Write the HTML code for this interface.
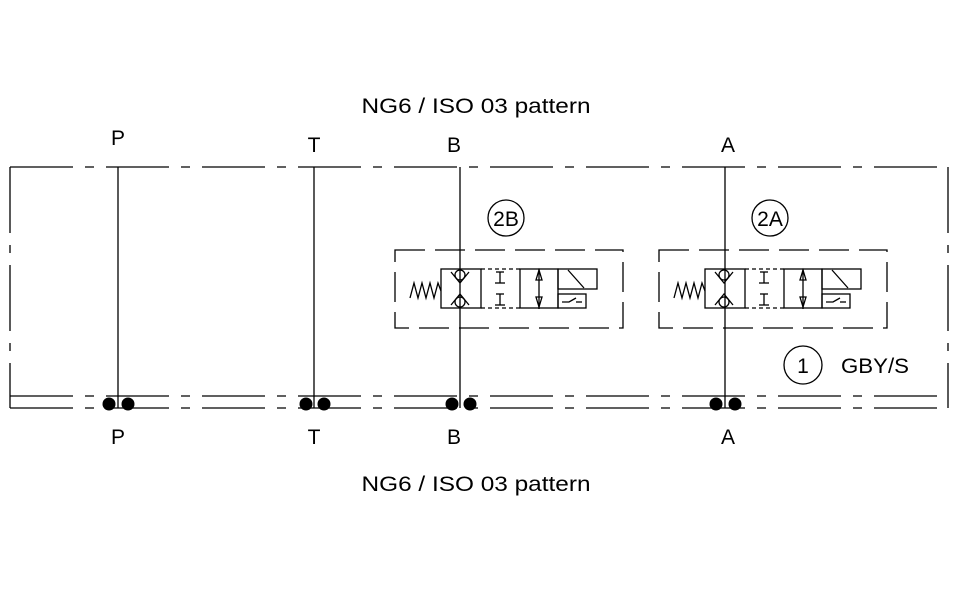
<!DOCTYPE html>
<html><head><meta charset="utf-8"><style>
html,body{margin:0;padding:0;background:#fff;}
svg{display:block;}
text{font-family:"Liberation Sans",sans-serif;fill:#000;}
</style></head><body>
<svg width="960" height="608" viewBox="0 0 960 608" xmlns="http://www.w3.org/2000/svg">
<defs>
<g id="valve" fill="none" stroke="#000" stroke-width="1.3">
  <!-- dashed housing -->
  <rect x="-46" y="-19" width="228" height="78" stroke-dasharray="30 10"/>
  <!-- spring -->
  <polyline points="-31,29 -27,14 -23,29 -19,14 -15,29 -11,14 -7,29 -3,14 0,22"/>
  <!-- body -->
  <rect x="0" y="0" width="40" height="39"/>
  <circle cx="19" cy="6" r="5"/>
  <polyline points="10,3 19,14 28,3"/>
  <circle cx="19" cy="33" r="5"/>
  <polyline points="10,36 19,25 28,36"/>
  <!-- dashed middle -->
  <line x1="40" y1="0" x2="79" y2="0" stroke-dasharray="4 3"/>
  <line x1="40" y1="39" x2="79" y2="39" stroke-dasharray="4 3"/>
  <line x1="59" y1="3" x2="59" y2="14"/><line x1="55" y1="3" x2="63" y2="3"/><line x1="54" y1="14" x2="64" y2="14"/>
  <line x1="59" y1="25" x2="59" y2="36"/><line x1="55" y1="25" x2="63" y2="25"/><line x1="54" y1="36" x2="64" y2="36"/>
  <!-- solid section -->
  <rect x="79" y="0" width="38" height="39"/>
  <line x1="98" y1="0" x2="98" y2="40"/>
  <polygon points="98,1 95,11 101,11"/>
  <polygon points="98,38 95,28 101,28"/>
  <!-- solenoid -->
  <rect x="117" y="0" width="39" height="20"/>
  <line x1="127" y1="1" x2="143" y2="19"/>
  <rect x="117" y="25" width="28" height="14"/>
  <polyline points="121,33 128,33 135,29"/><line x1="135" y1="33" x2="141" y2="33"/>
</g>
</defs>
<g fill="none" stroke="#000" stroke-width="1.3">
  <!-- frame -->
  <line x1="10" y1="167" x2="948" y2="167" stroke-dasharray="63 12 9 12"/>
  <line x1="10" y1="396" x2="948" y2="396" stroke-dasharray="63 12 9 12"/>
  <line x1="10" y1="408" x2="948" y2="408" stroke-dasharray="63 12 9 12"/>
  <line x1="10" y1="167" x2="10" y2="408" stroke-dasharray="66 12 8 12"/>
  <line x1="948" y1="167" x2="948" y2="408" stroke-dasharray="66 12 8 12"/>
  <!-- ports -->
  <line x1="118" y1="167" x2="118" y2="408"/>
  <line x1="314" y1="167" x2="314" y2="408"/>
  <line x1="460" y1="167" x2="460" y2="408"/>
  <line x1="725" y1="167" x2="725" y2="408"/>
  <!-- callout circles -->
  <circle cx="506" cy="218" r="18"/>
  <circle cx="770" cy="218" r="18"/>
  <circle cx="803" cy="365" r="19"/>
</g>
<use href="#valve" x="441" y="269"/>
<use href="#valve" x="705" y="269"/>
<g fill="#000">
  <circle cx="109" cy="404" r="6.5"/><circle cx="128" cy="404" r="6.5"/>
  <circle cx="306" cy="404" r="6.5"/><circle cx="324" cy="404" r="6.5"/>
  <circle cx="452" cy="404" r="6.5"/><circle cx="470" cy="404" r="6.5"/>
  <circle cx="716" cy="404" r="6.5"/><circle cx="735" cy="404" r="6.5"/>
</g>
<g font-size="21" text-anchor="middle">
  <text x="476" y="113" textLength="229" lengthAdjust="spacingAndGlyphs">NG6 / ISO 03 pattern</text>
  <text x="476" y="491" textLength="229" lengthAdjust="spacingAndGlyphs">NG6 / ISO 03 pattern</text>
  <text x="118" y="145">P</text>
  <text x="314" y="152">T</text>
  <text x="454" y="152">B</text>
  <text x="728" y="152">A</text>
  <text x="118" y="444">P</text>
  <text x="314" y="444">T</text>
  <text x="454" y="444">B</text>
  <text x="728" y="444">A</text>
  <text x="506" y="226">2B</text>
  <text x="770" y="226">2A</text>
  <text x="803" y="373">1</text>
  <text x="875" y="373" textLength="68" lengthAdjust="spacingAndGlyphs">GBY/S</text>
</g>
</svg>
</body></html>
